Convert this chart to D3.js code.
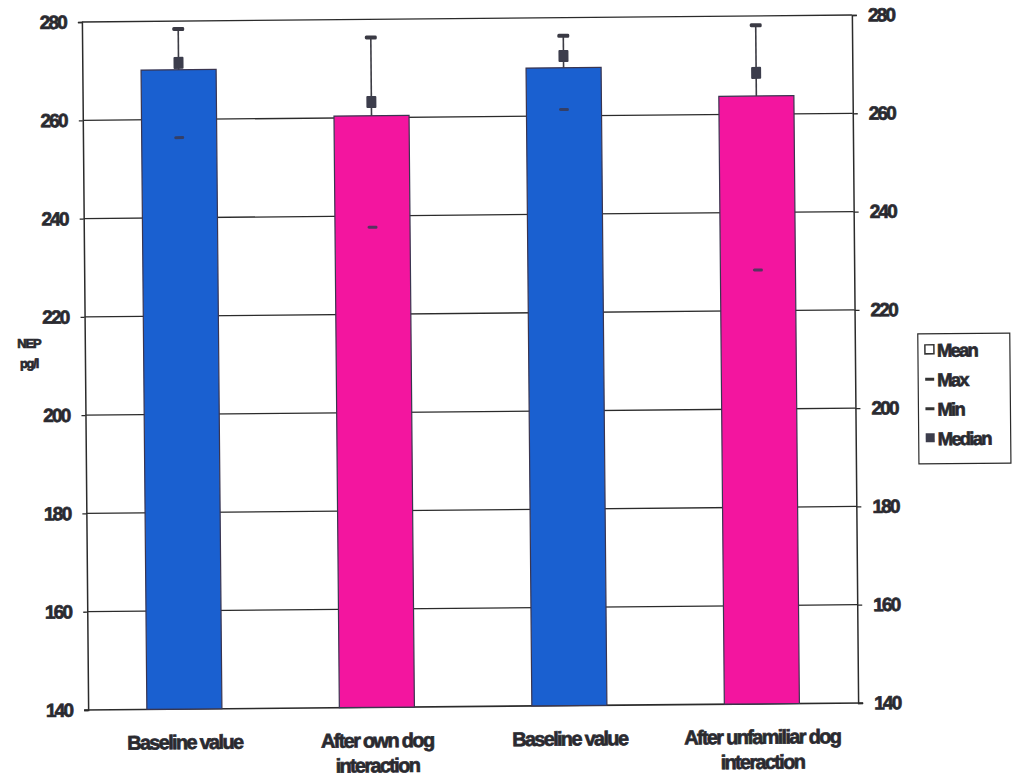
<!DOCTYPE html>
<html>
<head>
<meta charset="utf-8">
<script src="https://cdn.jsdelivr.net/npm/d3@7"></script>
<style>
  html, body { margin: 0; padding: 0; background: #fff; }
  svg text { font-family: "Liberation Sans", Arial, sans-serif; font-weight: bold; fill: #2a2a30; stroke: #2a2a30; stroke-width: 0.7px; }
</style>
</head>
<body>
<svg id="chart" width="1014" height="779"></svg>
<script>
// NEP (pg/l) before and after dog interaction
const categories = [
  ["Baseline value"],
  ["After own dog", "interaction"],
  ["Baseline value "],
  ["After unfamiliar dog", "interaction"]
];
const meanValues   = [270.1, 260.4, 269.8, 263.7];
const maxValues    = [278.4, 276.3, 276.3, 278.1];
const minValues    = [256.3, 237.7, 261.3, 228.3];
const medianValues = [271.5, 263.2, 272.2, 268.4];
const yTicks = [140, 160, 180, 200, 220, 240, 260, 280];
const legendItems = ["Mean", "Max", "Min", "Median"];

const svg = d3.select("#chart");
const plot = { left: 85, right: 855, top: 18.5, bottom: 706.5 };

// whole page sits at a slight tilt
const g = svg.append("g").attr("transform", "rotate(-0.52, 470, 362)");

const keys = categories.map((c, i) => i);
const x = d3.scaleBand().domain(keys).range([plot.left, plot.right])
  .paddingInner(0.61).paddingOuter(0.305);
const y = d3.scaleLinear().domain([140, 280]).range([plot.bottom, plot.top]);
const color = d3.scaleOrdinal().domain(keys).range(["#1a60d0", "#f3159f", "#1a60d0", "#f3159f"]);

// gridlines
g.append("g").selectAll("line").data(yTicks.filter(t => t > 140)).join("line")
  .attr("x1", plot.left).attr("x2", plot.right)
  .attr("y1", d => y(d)).attr("y2", d => y(d))
  .attr("stroke", "#2b2b2b").attr("stroke-width", 1.3);

// left axis
const left = g.append("g").attr("transform", `translate(${plot.left},0)`)
  .call(d3.axisLeft(y).tickValues(yTicks).tickSize(4).tickPadding(12));
// right axis
const right = g.append("g").attr("transform", `translate(${plot.right},0)`)
  .call(d3.axisRight(y).tickValues(yTicks).tickSize(5).tickPadding(11));
[left, right].forEach(ax => {
  ax.attr("font-family", null).attr("font-size", null);
  ax.select(".domain").attr("stroke", "#2b2b2b").attr("stroke-width", 1.5);
  ax.selectAll(".tick line").attr("stroke", "#2b2b2b").attr("stroke-width", 1.3);
  ax.selectAll(".tick text").attr("font-size", 19).attr("letter-spacing", "-1.8px")
    .attr("fill", null);
});

// bottom axis line
g.append("line").attr("x1", plot.left - 4).attr("x2", plot.right + 5)
  .attr("y1", y(140)).attr("y2", y(140))
  .attr("stroke", "#2b2b2b").attr("stroke-width", 1.6);

// bars (mean)
g.append("g").selectAll("rect").data(meanValues).join("rect")
  .attr("x", (d, i) => x(i)).attr("width", x.bandwidth())
  .attr("y", d => y(d)).attr("height", d => y(140) - y(d))
  .attr("fill", (d, i) => color(i))
  .attr("stroke", "#3a3550").attr("stroke-width", 1.2);

// whisker from mean up to max
const cx = i => x(i) + x.bandwidth() / 2;
g.append("g").selectAll("line").data(maxValues).join("line")
  .attr("x1", (d, i) => cx(i)).attr("x2", (d, i) => cx(i))
  .attr("y1", (d, i) => y(meanValues[i])).attr("y2", d => y(d))
  .attr("stroke", "#3c3c44").attr("stroke-width", 1.6);

// max marker
g.append("g").selectAll("rect").data(maxValues).join("rect")
  .attr("x", (d, i) => cx(i) - 6).attr("width", 12)
  .attr("y", d => y(d) - 2).attr("height", 4).attr("rx", 1.5)
  .attr("fill", "#3a3a44");

// min marker
g.append("g").selectAll("rect").data(minValues).join("rect")
  .attr("x", (d, i) => cx(i) - 5).attr("width", 10)
  .attr("y", d => y(d) - 1.5).attr("height", 3).attr("rx", 1.5)
  .attr("fill", "#3a3a55").attr("opacity", 0.85);

// median marker
g.append("g").selectAll("rect").data(medianValues).join("rect")
  .attr("x", (d, i) => cx(i) - 5).attr("width", 10)
  .attr("y", d => y(d) - 6).attr("height", 12).attr("rx", 1)
  .attr("fill", "#3c3d4c");

// category labels
const xl = g.append("g").selectAll("text").data(categories).join("text")
  .attr("x", (d, i) => cx(i)).attr("y", y(140) + 40)
  .attr("text-anchor", "middle").attr("font-size", 20).attr("letter-spacing", "-1.7px");
xl.selectAll("tspan").data(d => d).join("tspan")
  .attr("x", function () { return d3.select(this.parentNode).attr("x"); })
  .attr("dy", (d, j) => j === 0 ? 0 : 25)
  .text(d => d);

// y-axis title
g.append("text").attr("x", 29).attr("y", 344).attr("text-anchor", "middle")
  .attr("font-size", 13).attr("letter-spacing", "-1.2px").text("NEP");
g.append("text").attr("x", 29).attr("y", 364).attr("text-anchor", "middle")
  .attr("font-size", 13).attr("letter-spacing", "-1.2px").text("pg/l");

// legend
const lg = g.append("g").attr("transform", "translate(918,338)");
lg.append("rect").attr("width", 92).attr("height", 130)
  .attr("fill", "#fff").attr("stroke", "#2b2b2b").attr("stroke-width", 1.2);
const row = lg.selectAll("g.item").data(legendItems).join("g")
  .attr("class", "item").attr("transform", (d, i) => `translate(7,${16 + i * 29.5})`);
row.each(function (d, i) {
  const s = d3.select(this);
  if (i === 0) s.append("rect").attr("x", 0).attr("y", -5).attr("width", 9).attr("height", 9)
    .attr("fill", "#fff").attr("stroke", "#333").attr("stroke-width", 1.5);
  else if (i === 3) s.append("rect").attr("x", 0).attr("y", -5).attr("width", 9).attr("height", 9)
    .attr("fill", "#3c3d4c");
  else s.append("rect").attr("x", 0).attr("y", -1.5).attr("width", 9).attr("height", 3)
    .attr("fill", "#333");
});
row.append("text").attr("x", 12).attr("y", 7).attr("font-size", 18.5)
  .attr("letter-spacing", "-1.8px").text(d => d);
</script>
</body>
</html>
